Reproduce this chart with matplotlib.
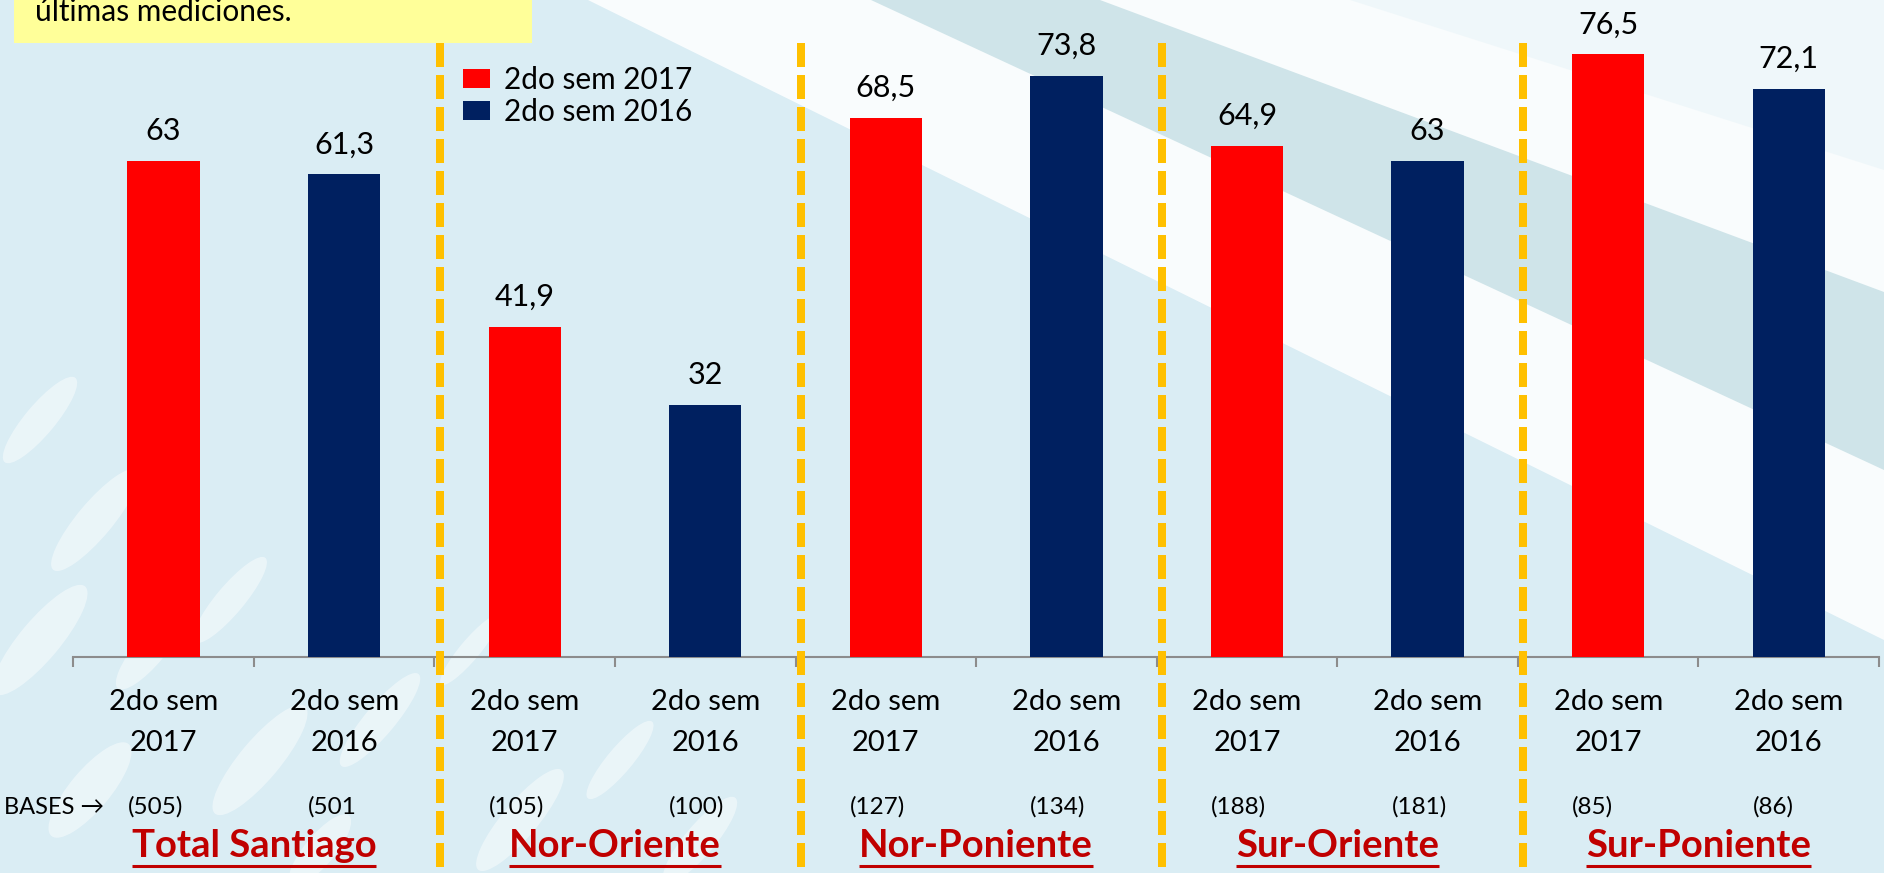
import matplotlib
matplotlib.use("Agg")
import matplotlib.pyplot as plt
from matplotlib.patches import Polygon, Rectangle, Ellipse
from matplotlib.lines import Line2D
from matplotlib.transforms import IdentityTransform
from matplotlib.ticker import FixedLocator

# ---------------- data ----------------
groups = ["Total Santiago", "Nor-Oriente", "Nor-Poniente", "Sur-Oriente", "Sur-Poniente"]
periods = ["2do sem\n2017", "2do sem\n2016"]
series_names = ["2do sem 2017", "2do sem 2016"]
values_2017 = [63.0, 41.9, 68.5, 64.9, 76.5]
values_2016 = [61.3, 32.0, 73.8, 63.0, 72.1]
bases_2017 = ["(505)", "(105)", "(127)", "(188)", "(85)"]
bases_2016 = ["(501", "(100)", "(134)", "(181)", "(86)"]
note_text = "últimas mediciones."

# ---------------- style ----------------
W, H = 1884, 873
BG = "#DAEDF4"
RED = "#FF0000"
NAVY = "#002060"
DARKRED = "#C00000"
ORANGE = "#FFC000"
FONT = ["Lato", "DejaVu Sans"]
plt.rcParams["font.family"] = FONT

fig = plt.figure(figsize=(W / 100, H / 100), dpi=100)
fig.patch.set_facecolor(BG)

# background decoration (pixel coordinates, origin top-left)
bg = fig.add_axes([0, 0, 1, 1], zorder=-5)
bg.set_xlim(0, W)
bg.set_ylim(H, 0)
bg.axis("off")
bg.add_patch(Polygon([(588, 0), (W, 0), (W, 640)], closed=True,
                     facecolor="white", edgecolor="none", alpha=0.85))
bg.add_patch(Polygon([(871, 0), (1100, 0), (W, 292), (W, 470)], closed=True,
                     facecolor="#CDE3E8", edgecolor="none", alpha=0.95))
bg.add_patch(Polygon([(1350, 0), (W, 0), (W, 170)], closed=True,
                     facecolor=BG, edgecolor="none", alpha=0.3))
ellipses = [(40, 420, 30, 110, 40), (95, 520, 35, 130, 40), (40, 640, 40, 140, 40),
            (150, 650, 30, 100, 40), (230, 600, 28, 110, 40), (260, 760, 40, 140, 40),
            (90, 790, 40, 120, 40), (380, 720, 30, 120, 40), (520, 820, 35, 130, 40),
            (620, 760, 25, 100, 40), (700, 840, 30, 110, 40), (170, 480, 20, 90, 40),
            (320, 850, 30, 90, 40), (470, 650, 20, 90, 40)]
for cx, cy, ew, eh, ang in ellipses:
    bg.add_patch(Ellipse((cx, cy), ew, eh, angle=ang, facecolor="white",
                         edgecolor="none", alpha=0.45))
# yellow note box
bg.add_patch(Rectangle((14, -5), 517.7, 47.7, facecolor="#FFFF99", edgecolor="none"))
bg.text(35, 21, note_text, fontsize=21.5, va="baseline", ha="left", color="black")

# ---------------- main axes ----------------
AX_L, AX_R, AX_BOT = 73.3, 1879.0, 657.3
PX_PER_UNIT = 7.88
ax = fig.add_axes([AX_L / W, (H - AX_BOT) / H, (AX_R - AX_L) / W, AX_BOT / H])
ax.set_facecolor("none")
n_groups = len(groups)
ax.set_xlim(-0.5, 2 * n_groups - 0.5)
ax.set_ylim(0, AX_BOT / PX_PER_UNIT)

x17 = [2 * i for i in range(n_groups)]
x16 = [2 * i + 1 for i in range(n_groups)]
bw = 0.4
b17 = ax.bar(x17, values_2017, width=bw, color=RED, label=series_names[0], zorder=3)
b16 = ax.bar(x16, values_2016, width=bw, color=NAVY, label=series_names[1], zorder=3)

def fmt(v):
    s = f"{v:g}"
    return s.replace(".", ",")

for bars, vals in ((b17, values_2017), (b16, values_2016)):
    for rect, v in zip(bars, vals):
        ax.annotate(fmt(v), (rect.get_x() + rect.get_width() / 2, v),
                    xytext=(0, 15.1), textcoords="offset points",
                    ha="center", va="baseline", fontsize=22, color="black")

for s in ("top", "right", "left"):
    ax.spines[s].set_visible(False)
ax.spines["bottom"].set_color("#8C8C8C")
ax.spines["bottom"].set_linewidth(1.5)
ax.set_yticks([])
ax.set_xticks(list(range(2 * n_groups)))
ax.set_xticklabels(periods * n_groups, fontsize=21, linespacing=1.72)
ax.tick_params(axis="x", which="major", length=0, pad=22.5)
ax.xaxis.set_minor_locator(FixedLocator([i - 0.5 for i in range(2 * n_groups + 1)]))
ax.tick_params(axis="x", which="minor", length=7.2, width=1.5, color="#8C8C8C", direction="out")

def ypx(y):
    """pixel-from-top -> axes fraction"""
    return (AX_BOT - y) / AX_BOT

# dashed separators
for i in range(1, n_groups):
    xs = 2 * i - 0.5 + 0.03
    ax.plot([xs, xs], [ypx(43), ypx(H + 5)], transform=ax.get_xaxis_transform(),
            color=ORANGE, lw=5.76, linestyle=(0, (3, 1)), dash_capstyle="butt",
            clip_on=False, zorder=4)

# bases row
ax.text((4.5 - AX_L) / (AX_R - AX_L), ypx(813.5),
        "BASES →", transform=ax.transAxes, fontsize=17, ha="left", va="baseline")
for xs, labs in ((x17, bases_2017), (x16, bases_2016)):
    for x, lab in zip(xs, labs):
        ax.text(x - bw / 2, ypx(813.5), lab, transform=ax.get_xaxis_transform(),
                fontsize=17.5, ha="left", va="baseline")

# group names (bold, underlined)
name_texts = []
for i, g in enumerate(groups):
    t = ax.text(2 * i + 0.5, ypx(857), g, transform=ax.get_xaxis_transform(),
                fontsize=27.5, fontweight="bold", color=DARKRED, ha="center", va="baseline")
    name_texts.append(t)

# legend
fig.legend(handles=[b17, b16], labels=series_names, loc="upper left",
           bbox_to_anchor=(463 / W, 1 - 66 / H), frameon=False, fontsize=21.4,
           handlelength=0.91, handleheight=0.61, handletextpad=0.46,
           labelspacing=0.12, borderpad=0, borderaxespad=0)

fig.canvas.draw()
r = fig.canvas.get_renderer()
for t in name_texts:
    bb = t.get_window_extent(r)
    fig.add_artist(Line2D([bb.x0, bb.x1], [H - 865.5, H - 865.5], transform=IdentityTransform(),
                          color=DARKRED, lw=2.2, solid_capstyle="butt"))

fig.savefig("out.png", dpi=100, facecolor=fig.get_facecolor())
